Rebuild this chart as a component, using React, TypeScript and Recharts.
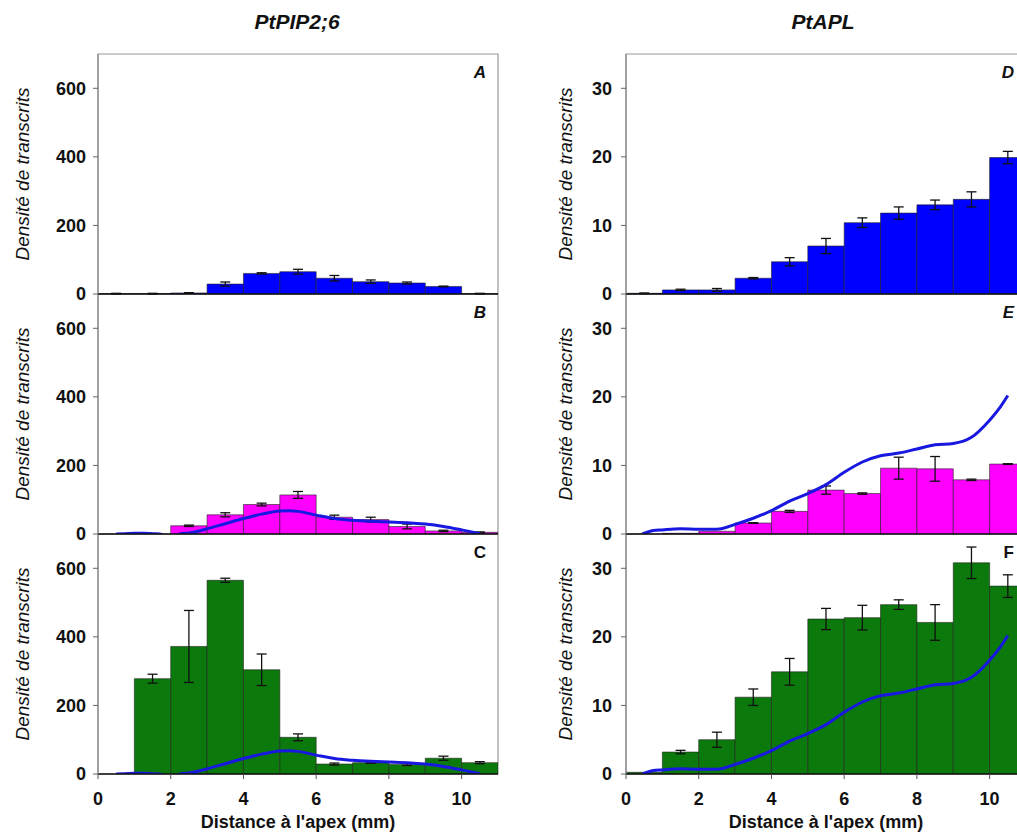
import { ComposedChart, Bar, Line, XAxis, YAxis, ErrorBar, ReferenceArea } from 'recharts';

// bins of 1 mm, values at bin centres
const binCenters = [0.5, 1.5, 2.5, 3.5, 4.5, 5.5, 6.5, 7.5, 8.5, 9.5, 10.5];
const xTicks = [0, 2, 4, 6, 8, 10];

// PtPIP2;6
const pipA = [1, 1, 3, 29, 60, 65, 46, 36, 32, 22, 1];
const pipAErr = [1, 1, 1, 6, 2, 7, 8, 5, 3, 1, 1];
const pipB = [0, 0, 24, 56, 86, 114, 49, 42, 22, 9, 5];
const pipBErr = [0, 0, 2, 6, 4, 10, 6, 7, 7, 2, 1];
const pipC = [0, 278, 372, 565, 304, 107, 29, 33, 28, 46, 33];
const pipCErr = [0, 13, 105, 6, 46, 10, 3, 2, 3, 6, 3];
const pipTicks = [0, 200, 400, 600];

// PtAPL
const aplD = [0.1, 0.6, 0.6, 2.3, 4.7, 7.0, 10.4, 11.8, 13.0, 13.8, 19.9];
const aplDErr = [0.05, 0.1, 0.2, 0.1, 0.6, 1.1, 0.7, 0.9, 0.7, 1.1, 0.9];
const aplE = [0, 0.1, 0.4, 1.6, 3.3, 6.4, 5.9, 9.6, 9.5, 7.9, 10.2];
const aplEErr = [0, 0, 0, 0.05, 0.15, 0.6, 0.1, 1.6, 1.8, 0.1, 0.05];
const aplF = [0.25, 3.2, 5.0, 11.2, 14.9, 22.6, 22.8, 24.7, 22.1, 30.8, 27.4];
const aplFErr = [0, 0.25, 1.1, 1.2, 1.95, 1.55, 1.8, 0.7, 2.6, 2.3, 1.65];
const aplTicks = [0, 10, 20, 30];

// smoothed profile of the top panels, overlaid on the lower panels
const pipCurveX = [0.5, 0.75, 1, 1.25, 1.5, 1.7, 2.0, 2.25, 2.5, 2.75, 3, 3.5, 4, 4.5, 5, 5.25, 5.5, 6, 6.5, 7, 7.5, 8, 8.5, 9, 9.5, 10, 10.5];
const pipCurveY = [0, 1, 2, 2, 1, 0, -12, 0, 3, 8, 15, 30, 45, 58, 67, 68, 66, 55, 45, 40, 37, 35, 33, 29, 22, 12, 1];
const aplCurveX = [0.45, 0.75, 1, 1.5, 2, 2.5, 3, 3.5, 4, 4.5, 5, 5.5, 6, 6.5, 7, 7.5, 8, 8.5, 9, 9.5, 10, 10.25, 10.5];
const aplCurveY = [0, 0.5, 0.6, 0.75, 0.7, 0.7, 1.4, 2.3, 3.4, 4.8, 5.9, 7.2, 9.0, 10.5, 11.4, 11.8, 12.4, 13.0, 13.2, 14.1, 16.6, 18.2, 20.2];

const yTitle = 'Densité de transcrits';
const xTitle = "Distance à l'apex (mm)";

const toRows = (v: number[], err: number[]) => binCenters.map((x, i) => ({ x, v: v[i], err: err[i] }));
const toCurve = (xs: number[], ys: number[]) => xs.map((x, i) => ({ x, y: ys[i] }));

const FONT = "'Liberation Sans', Arial, sans-serif";

const yLabel = (gap: number) => (props: any) => {
  const vb = props.viewBox ?? { x: 48, y: 6, width: 50, height: 240 };
  const cx = vb.x + vb.width - gap;
  const cy = vb.y + vb.height / 2;
  return (
    <text x={cx} y={cy} transform={`rotate(-90 ${cx} ${cy})`} textAnchor="middle" dominantBaseline="central"
      fontSize={19} fontStyle="italic" fill="#111" fontFamily={FONT}>
      {yTitle}
    </text>
  );
};

type PanelProps = {
  plotLeft: number;
  plotTop: number;
  rows: { x: number; v: number; err: number }[];
  fill: string;
  yMax: number;
  yTicks: number[];
  letter: string;
  italic: boolean;
  curve?: { x: number; y: number }[];
  bottom?: boolean;
  labelGap: number;
  tickGap: number;
  z: number;
};

const Panel = ({ plotLeft, plotTop, rows, fill, yMax, yTicks, letter, italic, curve, bottom, labelGap, tickGap, z }: PanelProps) => {
  const mt = 6;
  const xAxisH = bottom ? 60 : 12;
  const W = 520;
  const H = mt + 240 + xAxisH;
  return (
    <div style={{ position: 'absolute', left: plotLeft - 98, top: plotTop - mt, width: W, height: H, zIndex: z }}>
      <ComposedChart width={W} height={H} data={rows} margin={{ top: mt, right: 22, bottom: 0, left: 48 }}>
        <ReferenceArea x1={0} x2={11} y1={0} y2={yMax} fill="none" stroke="#9a9a9a" strokeWidth={1.2} ifOverflow="visible"
          label={{ value: letter, position: 'insideTopRight', offset: 12, fontSize: 17, fontWeight: 700, fontStyle: italic ? 'italic' : 'normal', fill: '#111' }} />
        <XAxis type="number" dataKey="x" domain={[0, 11]} ticks={xTicks} interval={0} allowDataOverflow height={xAxisH}
          axisLine={{ stroke: '#111', strokeWidth: 1.6 }} tickLine={{ stroke: '#555' }} tickSize={5} tickMargin={13}
          tick={bottom ? { fill: '#111', fontSize: 18, fontWeight: 700 } : false}
          label={bottom ? { value: xTitle, position: 'insideBottom', offset: 6.5, fill: '#111', fontSize: 18, fontWeight: 700 } : undefined} />
        {/* separate hidden x axis for the curve so its dense points do not shrink the bar width */}
        <XAxis xAxisId="curve" type="number" dataKey="x" domain={[0, 11]} allowDataOverflow hide />
        <YAxis type="number" domain={[0, yMax]} ticks={yTicks} interval={0} allowDataOverflow width={50}
          axisLine={{ stroke: '#8a8a8a', strokeWidth: 1.2 }} tickLine={{ stroke: '#666' }} tickSize={5} tickMargin={tickGap}
          tick={{ fill: '#111', fontSize: 18, fontWeight: 700 }}
          label={{ content: yLabel(labelGap) }} />
        <Bar dataKey="v" fill={fill} stroke="#222" strokeWidth={0.6} barSize={36.36} isAnimationActive={false}>
          <ErrorBar dataKey="err" direction="y" width={5} stroke="#111" strokeWidth={1.3} />
        </Bar>
        {curve && (
          <Line xAxisId="curve" data={curve} dataKey="y" type="monotone" stroke="#1818e0" strokeWidth={3} dot={false} isAnimationActive={false} />
        )}
      </ComposedChart>
    </div>
  );
};

const BLUE = '#0000ff';
const PINK = '#ff00ff';
const GREEN = '#0b790b';

export default function App() {
  const pipCurve = toCurve(pipCurveX, pipCurveY);
  const aplCurve = toCurve(aplCurveX, aplCurveY);
  const titleStyle = {
    position: 'absolute' as const, top: 10.5, fontSize: 21, lineHeight: '21px', fontWeight: 700,
    fontStyle: 'italic', color: '#111', transform: 'translateX(-50%)', whiteSpace: 'nowrap' as const,
  };
  return (
    <div style={{ position: 'absolute', left: 0, top: 0, width: 1017, height: 834, overflow: 'hidden', background: '#fff', fontFamily: FONT }}>
      <div style={{ ...titleStyle, left: 297 }}>PtPIP2;6</div>
      <div style={{ ...titleStyle, left: 823 }}>PtAPL</div>

      <Panel plotLeft={98} plotTop={54} rows={toRows(pipA, pipAErr)} fill={BLUE} yMax={700} yTicks={pipTicks}
        letter="A" italic labelGap={76} tickGap={7} z={3} />
      <Panel plotLeft={98} plotTop={294} rows={toRows(pipB, pipBErr)} fill={PINK} yMax={700} yTicks={pipTicks}
        letter="B" italic curve={pipCurve} labelGap={76} tickGap={7} z={2} />
      <Panel plotLeft={98} plotTop={534} rows={toRows(pipC, pipCErr)} fill={GREEN} yMax={700} yTicks={pipTicks}
        letter="C" italic={false} curve={pipCurve} bottom labelGap={76} tickGap={7} z={1} />

      <Panel plotLeft={625.7} plotTop={54} rows={toRows(aplD, aplDErr)} fill={BLUE} yMax={35} yTicks={aplTicks}
        letter="D" italic labelGap={61} tickGap={9} z={3} />
      <Panel plotLeft={625.7} plotTop={294} rows={toRows(aplE, aplEErr)} fill={PINK} yMax={35} yTicks={aplTicks}
        letter="E" italic curve={aplCurve} labelGap={61} tickGap={9} z={2} />
      <Panel plotLeft={625.7} plotTop={534} rows={toRows(aplF, aplFErr)} fill={GREEN} yMax={35} yTicks={aplTicks}
        letter="F" italic={false} curve={aplCurve} bottom labelGap={61} tickGap={9} z={1} />
    </div>
  );
}
